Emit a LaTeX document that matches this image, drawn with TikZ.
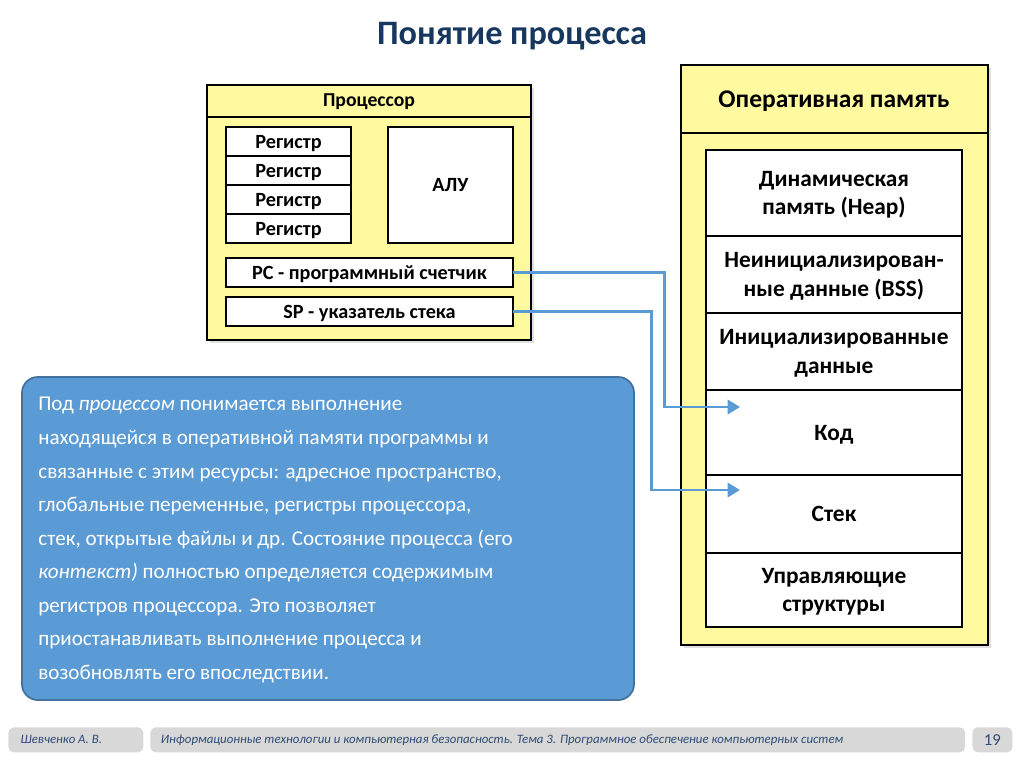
\documentclass[tikz,border=0pt]{standalone}
\usepackage{fontspec}
\setmainfont{Carlito}
\usetikzlibrary{positioning,arrows.meta,shadows}

\definecolor{titleblue}{RGB}{23,55,94}
\definecolor{boxyellow}{RGB}{255,250,160}
\definecolor{noteblue}{RGB}{91,155,213}
\definecolor{noteedge}{RGB}{65,113,156}
\definecolor{footgray}{RGB}{216,216,216}
\definecolor{foottext}{RGB}{45,75,115}

\tikzset{
  unitbox/.style={draw, fill=boxyellow, line width=0.8pt,
    drop shadow={opacity=0.25, shadow xshift=1.5pt, shadow yshift=-1.5pt}},
  cell/.style={draw, fill=white, line width=0.7pt, inner sep=2pt, outer sep=0pt,
    font=\bfseries\fontsize{11.5}{13}\selectfont, align=center, text depth=0pt},
  memcell/.style={cell, minimum width=5.12cm,
    font=\bfseries\fontsize{13.3}{16}\selectfont},
  link/.style={draw=noteblue, line width=1.7pt,
    -{Triangle[length=7pt,width=8pt]}},
  footbox/.style={fill=footgray, rounded corners=3pt, inner sep=0pt,
    font=\itshape\fontsize{7.3}{9}\selectfont, text=foottext}
}

\begin{document}
\begin{tikzpicture}[x=0.02cm, y=-0.02cm]
    \useasboundingbox (0,0) rectangle (1024,767);
    % Заголовок
    \node[font=\bfseries\fontsize{19.5}{22}\selectfont, text=titleblue]
        (title) at (512,36) {Понятие процесса};

    % Процессор
    \draw[unitbox] (207,85) rectangle (531,340);
    \draw[line width=0.8pt] (207,117) -- (531,117);
    \node[font=\bfseries\fontsize{11.2}{13}\selectfont] (cpu) at (369,102) {Процессор};
    \node[cell, minimum width=2.5cm, minimum height=0.58cm, anchor=north west]
        (reg1) at (226,127) {Регистр};
    \node[cell, minimum width=2.5cm, minimum height=0.58cm, below=0pt of reg1] (reg2) {Регистр};
    \node[cell, minimum width=2.5cm, minimum height=0.58cm, below=0pt of reg2] (reg3) {Регистр};
    \node[cell, minimum width=2.5cm, minimum height=0.58cm, below=0pt of reg3] (reg4) {Регистр};
    \node[cell, minimum width=2.5cm, minimum height=2.32cm, anchor=north west]
        (alu) at (388,127) {АЛУ};
    \node[cell, minimum width=5.74cm, minimum height=0.58cm, anchor=north west]
        (pc) at (226,258) {PC - программный счетчик};
    \node[cell, minimum width=5.74cm, minimum height=0.58cm, anchor=north west]
        (sp) at (226,297) {SP - указатель стека};

    % Оперативная память
    \draw[unitbox] (681,65) rectangle (988,645);
    \draw[line width=0.8pt] (681,133) -- (988,133);
    \node[font=\bfseries\fontsize{14.5}{17}\selectfont] (ram) at (834,101) {Оперативная память};
    \node[memcell, minimum height=1.72cm, anchor=north west]
        (heap) at (706,150) {Динамическая\\память (Heap)};
    \node[memcell, minimum height=1.54cm, below=0pt of heap] (bss) {Неинициализирован-\\ные данные (BSS)};
    \node[memcell, minimum height=1.54cm, below=0pt of bss] (data) {Инициализированные\\данные};
    \node[memcell, minimum height=1.70cm, below=0pt of data] (code) {Код};
    \node[memcell, minimum height=1.56cm, below=0pt of code] (stack) {Стек};
    \node[memcell, minimum height=1.48cm, below=0pt of stack] (ctrl) {Управляющие\\структуры};

    % Пояснение
    \draw[fill=noteblue, draw=noteedge, line width=1pt, rounded corners=9pt]
        (22,377) rectangle (634,700);
    \node[anchor=north west, align=left, text=white, inner sep=0pt,
          font=\fontsize{12}{19.1}\selectfont] (note) at (38,397)
        {Под \textit{процессом} понимается выполнение\\
         находящейся в оперативной памяти программы и\\
         связанные с этим ресурсы: адресное пространство,\\
         глобальные переменные, регистры процессора,\\
         стек, открытые файлы и др. Состояние процесса (его\\
         \textit{контекст)} полностью определяется содержимым\\
         регистров процессора. Это позволяет\\
         приостанавливать выполнение процесса и\\
         возобновлять его впоследствии.};

    % Стрелки
    \coordinate (codeIn) at (740,407);
    \coordinate (stackIn) at (740,490);
    \draw[link] (pc.east) -- ++(152,0) |- (codeIn);
    \draw[link] (sp.east) -- ++(139,0) |- (stackIn);

    % Нижний колонтитул
    \node[footbox, minimum width=2.7cm, minimum height=0.5cm, anchor=north west]
        (author) at (8,727) {};
    \node[footbox, anchor=west] at ([xshift=7pt]author.west) {Шевченко А. В.};
    \node[footbox, minimum width=16.3cm, minimum height=0.5cm, anchor=north west]
        (course) at (150,727) {};
    \node[footbox, anchor=west] at ([xshift=6pt]course.west)
        {Информационные технологии и компьютерная безопасность. Тема 3. Программное обеспечение компьютерных систем};
    \node[footbox, minimum width=0.8cm, minimum height=0.5cm, anchor=north west,
          font=\fontsize{9.5}{11}\selectfont] (page) at (972,727) {19};
\end{tikzpicture}
\end{document}
